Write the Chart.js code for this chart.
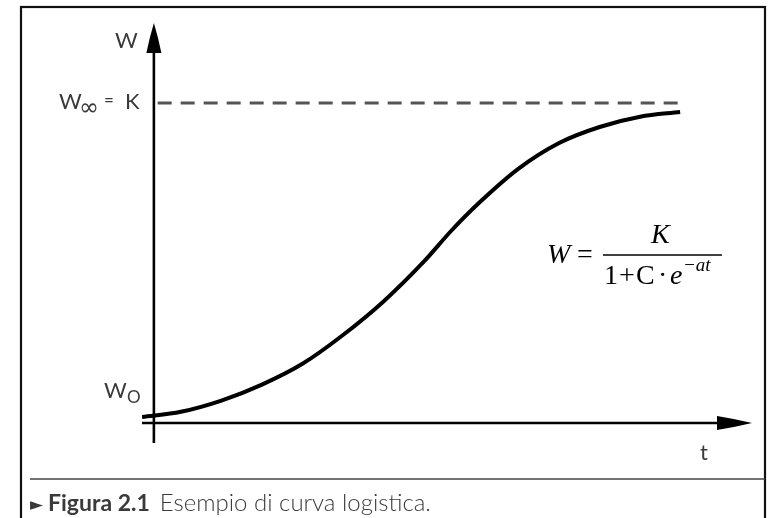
<!DOCTYPE html>
<html lang="it">
<head>
<meta charset="utf-8">
<title>Curva logistica</title>
<script src="https://cdn.jsdelivr.net/npm/chart.js@4.4.1/dist/chart.umd.min.js"></script>
<style>
  html, body { margin: 0; padding: 0; background: #fff; }
  #wrap { width: 773px; height: 518px; }
</style>
</head>
<body>
<div id="wrap"><canvas id="logisticChart" width="773" height="518"></canvas></div>
<script>
// ==========================================
// Dati
// ==========================================
const tValues = [-0.22, 0.5, 1.25, 2, 2.75, 3.5, 4.25, 5, 5.5, 6, 6.75, 7.5, 8.25, 9, 9.74];
const wValues = [0.19, 0.35, 0.7, 1.2, 1.85, 2.75, 3.8, 5.05, 6.0, 6.85, 7.95, 8.75, 9.25, 9.57, 9.72];

const K = 10;                       // asintoto W∞ = K
const kLineT = [0.07, 9.8];         // estensione della linea tratteggiata
const tAxis = [-0.22, 11.07];       // asse t (con freccia)
const wAxis = [-0.625, 12.5];       // asse W (con freccia)

const labels = {
  wAxis: "W",
  wInf: "W",
  wZero: "W",
  tAxis: "t",
  captionBold: "Figura 2.1",
  caption: "Esempio di curva logistica.",
};

const INK = "#000";
const TEXT = "#3a3a3a";
const LABEL_FONT = '"Lato", "Open Sans", sans-serif';
const SERIF = '"Liberation Serif", "DejaVu Serif", serif';

// ==========================================
// Plugin: cornice, assi con frecce, testi
// ==========================================
function arrowHead(ctx, x, y, dir, len, half) {
  ctx.beginPath();
  if (dir === "right") {
    ctx.moveTo(x, y);
    ctx.quadraticCurveTo(x - len * 0.5, y - half * 0.6, x - len, y - half);
    ctx.lineTo(x - len, y + half);
    ctx.quadraticCurveTo(x - len * 0.5, y + half * 0.6, x, y);
  } else {
    ctx.moveTo(x, y);
    ctx.quadraticCurveTo(x - half * 0.6, y + len * 0.5, x - half, y + len);
    ctx.lineTo(x + half, y + len);
    ctx.quadraticCurveTo(x + half * 0.6, y + len * 0.5, x, y);
  }
  ctx.closePath();
  ctx.fill();
}

const decorPlugin = {
  id: "decor",
  beforeDraw(chart) {
    const ctx = chart.ctx;
    ctx.save();
    ctx.fillStyle = "#fff";
    ctx.fillRect(0, 0, chart.width, chart.height);
    // cornice
    ctx.strokeStyle = "#111";
    ctx.lineWidth = 2.2;
    ctx.strokeRect(21, 7, 744, 530);
    // separatore didascalia
    ctx.strokeStyle = "#444";
    ctx.lineWidth = 1.6;
    ctx.beginPath();
    ctx.moveTo(30, 479);
    ctx.lineTo(765, 479);
    ctx.stroke();
    ctx.restore();
  },
  afterDatasetsDraw(chart) {
    const ctx = chart.ctx;
    const xs = chart.scales.x;
    const ys = chart.scales.y;
    const x0 = xs.getPixelForValue(0);
    const y0 = ys.getPixelForValue(0);

    ctx.save();
    ctx.strokeStyle = INK;
    ctx.fillStyle = INK;
    ctx.lineWidth = 2.6;

    // asse t
    const xEnd = xs.getPixelForValue(tAxis[1]);
    ctx.beginPath();
    ctx.moveTo(xs.getPixelForValue(tAxis[0]), y0);
    ctx.lineTo(xEnd - 20, y0);
    ctx.stroke();
    arrowHead(ctx, xEnd, y0, "right", 35, 7);

    // asse W
    const yTop = ys.getPixelForValue(wAxis[1]);
    ctx.beginPath();
    ctx.moveTo(x0, ys.getPixelForValue(wAxis[0]));
    ctx.lineTo(x0, yTop + 20);
    ctx.stroke();
    arrowHead(ctx, x0, yTop, "up", 30, 7.5);

    // etichette assi
    ctx.fillStyle = TEXT;
    ctx.textBaseline = "alphabetic";
    ctx.font = "400 22px " + LABEL_FONT;
    ctx.textAlign = "right";
    ctx.fillText(labels.wAxis, x0 - 16, 48);

    const yK = ys.getPixelForValue(K);
    // W∞ = K
    ctx.textAlign = "left";
    ctx.fillText(labels.wInf, 59, yK + 6);
    ctx.font = '400 24px "DejaVu Sans", sans-serif';
    ctx.fillText("\u221E", 79, yK + 12);
    ctx.font = "400 17px " + LABEL_FONT;
    ctx.fillText("=", 104, yK + 3);
    ctx.font = "400 22px " + LABEL_FONT;
    ctx.fillText("K", 125, yK + 6);

    // W0
    const yW0 = ys.getPixelForValue(wValues[0]);
    ctx.fillText(labels.wZero, 104, yW0 - 19);
    ctx.font = "400 17px " + LABEL_FONT;
    ctx.fillText("O", 127, yW0 - 14);

    // t
    ctx.font = "400 22px " + LABEL_FONT;
    ctx.fillText(labels.tAxis, 700, 460);

    // formula W = K / (1 + C·e^-at)
    ctx.fillStyle = INK;
    ctx.font = "italic 28px " + SERIF;
    ctx.fillText("W", 547, 263);
    ctx.font = "28px " + SERIF;
    ctx.fillText("=", 577, 263);
    ctx.lineWidth = 1.4;
    ctx.beginPath();
    ctx.moveTo(603, 255);
    ctx.lineTo(722, 255);
    ctx.stroke();
    ctx.font = "italic 28px " + SERIF;
    ctx.fillText("K", 651, 243);
    ctx.font = "28px " + SERIF;
    ctx.fillText("1", 604, 284);
    ctx.fillText("+", 619, 284);
    ctx.fillText("C", 636, 284);
    ctx.fillText("\u00B7", 658, 284);
    ctx.font = "italic 28px " + SERIF;
    ctx.fillText("e", 670, 284);
    ctx.font = "italic 19px " + SERIF;
    ctx.fillText("\u2212at", 683, 271);

    // didascalia
    ctx.fillStyle = TEXT;
    ctx.font = '17px "DejaVu Sans", sans-serif';
    ctx.fillText("\u25BA", 30, 510);
    ctx.font = "700 23px " + LABEL_FONT;
    ctx.fillText(labels.captionBold, 48, 511);
    const wB = ctx.measureText(labels.captionBold).width;
    ctx.font = "300 24px " + LABEL_FONT;
    ctx.fillText(labels.caption, 48 + wB + 10, 511);

    ctx.restore();
  },
};

// ==========================================
// Grafico
// ==========================================
const curvePoints = tValues.map((t, i) => ({ x: t, y: wValues[i] }));
const kLine = kLineT.map((t) => ({ x: t, y: K }));

new Chart(document.getElementById("logisticChart"), {
  type: "line",
  data: {
    datasets: [
      {
        label: "W(t)",
        data: curvePoints,
        borderColor: INK,
        borderWidth: 4,
        pointRadius: 0,
        fill: false,
        cubicInterpolationMode: "monotone",
      },
      {
        label: "K",
        data: kLine,
        borderColor: "#555",
        borderWidth: 3,
        borderDash: [14, 9],
        pointRadius: 0,
        fill: false,
      },
    ],
  },
  options: {
    responsive: false,
    animation: false,
    layout: {
      padding: { left: 142, right: 21, top: 23, bottom: 75 },
    },
    plugins: {
      legend: { display: false },
      tooltip: { enabled: false },
    },
    scales: {
      x: { type: "linear", min: tAxis[0], max: tAxis[1], display: false },
      y: { type: "linear", min: wAxis[0], max: wAxis[1], display: false },
    },
  },
  plugins: [decorPlugin],
});
</script>
</body>
</html>
